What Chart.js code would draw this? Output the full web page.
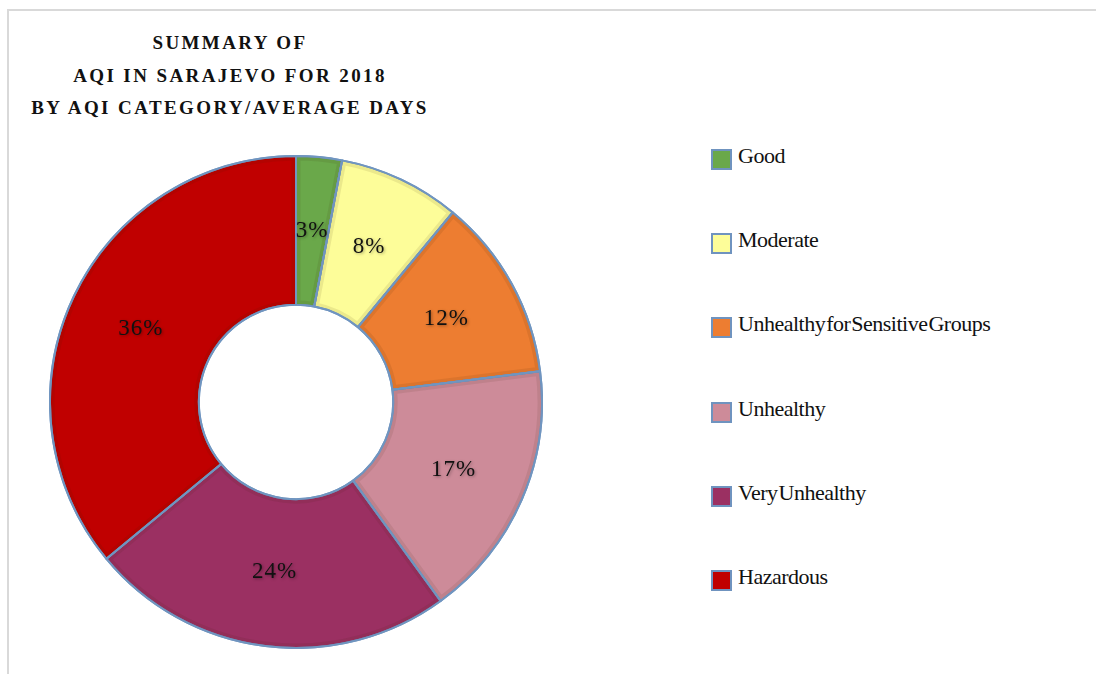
<!DOCTYPE html>
<html>
<head>
<meta charset="utf-8">
<script src="https://cdn.jsdelivr.net/npm/chart.js@4/dist/chart.umd.min.js"></script>
<style>
  html, body { margin: 0; padding: 0; background: #fff; width: 1096px; height: 674px; overflow: hidden; }
  #frame { position: absolute; left: 7px; top: 9px; width: 1200px; height: 800px; border-left: 2px solid #d9d9d9; border-top: 2px solid #d9d9d9; }
  #title { position: absolute; left: 30px; width: 400px; top: 27px; text-align: center;
    font-family: "Liberation Serif", "DejaVu Serif", serif; font-weight: bold; font-size: 19px;
    letter-spacing: 2.4px; line-height: 32.5px; color: #111; }
  #chartBox { position: absolute; left: 49px; top: 155px; width: 494px; height: 494px; }
  #legend { position: absolute; left: 711px; top: 0; }
  .item { position: absolute; left: 0; white-space: nowrap; font-family: "Liberation Serif", "DejaVu Serif", serif;
    font-size: 22px; letter-spacing: -0.5px; word-spacing: -4px; color: #111; line-height: 22px; }
  .sw { position: absolute; left: 0; width: 17px; height: 17px; border: 2px solid #6f93bf; }
  .lt { position: absolute; left: 27px; }
</style>
</head>
<body>
<div id="frame"></div>
<div id="title"></div>
<div id="chartBox"><canvas id="c"></canvas></div>
<div id="legend"></div>
<script>
const titleLines = ["SUMMARY OF", "AQI IN SARAJEVO FOR 2018", "BY AQI CATEGORY/AVERAGE DAYS"];
const categories = ["Good", "Moderate", "Unhealthy for Sensitive Groups", "Unhealthy", "Very Unhealthy", "Hazardous"];
const values = [3, 8, 12, 17, 24, 36];
const colors = ["#6aa84a", "#fdfd99", "#ed7d31", "#cd8b99", "#9b3062", "#c00000"];

document.getElementById('title').innerHTML = titleLines.join('<br>');

const legend = document.getElementById('legend');
categories.forEach((c, i) => {
  const y = 145 + i * 84.2;
  const d = document.createElement('div');
  d.className = 'item';
  d.style.top = y + 'px';
  d.innerHTML = '<span class="sw" style="background:' + colors[i] + ';top:4px"></span><span class="lt">' + c + '</span>';
  legend.appendChild(d);
});

const bevel = {
  id: 'bevel',
  afterDatasetsDraw(chart) {
    const ctx = chart.ctx;
    const meta = chart.getDatasetMeta(0);
    meta.data.forEach((arc) => {
      const {x, y, startAngle, endAngle, innerRadius, outerRadius} = arc.getProps(['x','y','startAngle','endAngle','innerRadius','outerRadius'], true);
      ctx.save();
      ctx.beginPath();
      ctx.arc(x, y, outerRadius, startAngle, endAngle);
      ctx.arc(x, y, innerRadius, endAngle, startAngle, true);
      ctx.closePath();
      ctx.clip();
      ctx.lineWidth = 9;
      ctx.strokeStyle = 'rgba(60,30,0,0.09)';
      ctx.stroke();
      ctx.restore();
      ctx.save();
      ctx.beginPath();
      ctx.arc(x, y, outerRadius, startAngle, endAngle);
      ctx.arc(x, y, innerRadius, endAngle, startAngle, true);
      ctx.closePath();
      ctx.lineWidth = 2;
      ctx.lineJoin = 'bevel';
      ctx.strokeStyle = '#7095c0';
      ctx.stroke();
      ctx.restore();
    });
  }
};

const pctLabels = {
  id: 'pctLabels',
  afterDatasetsDraw(chart) {
    const ctx = chart.ctx;
    const meta = chart.getDatasetMeta(0);
    const total = values.reduce((a, b) => a + b, 0);
    ctx.save();
    ctx.font = '23px "Liberation Serif", "DejaVu Serif", serif';
    ctx.textAlign = 'center';
    ctx.textBaseline = 'middle';
    ctx.fillStyle = '#111';
    ctx.shadowColor = 'rgba(0,0,0,0.35)';
    ctx.shadowBlur = 3;
    ctx.shadowOffsetX = 1;
    ctx.shadowOffsetY = 1;
    if ('letterSpacing' in ctx) ctx.letterSpacing = '1px';
    meta.data.forEach((arc, i) => {
      const p = arc.tooltipPosition();
      ctx.fillText(Math.round(values[i] / total * 100) + '%', p.x, p.y);
    });
    ctx.restore();
  }
};

new Chart(document.getElementById('c'), {
  type: 'doughnut',
  data: {
    labels: categories,
    datasets: [{
      data: values,
      backgroundColor: colors,
      borderColor: '#7095c0',
      borderWidth: 2,
      hoverOffset: 0
    }]
  },
  options: {
    responsive: true,
    maintainAspectRatio: false,
    animation: false,
    cutout: '39.5%',
    layout: { padding: 0 },
    plugins: { legend: { display: false }, title: { display: false }, tooltip: { enabled: false } }
  },
  plugins: [bevel, pctLabels]
});
</script>
</body>
</html>
